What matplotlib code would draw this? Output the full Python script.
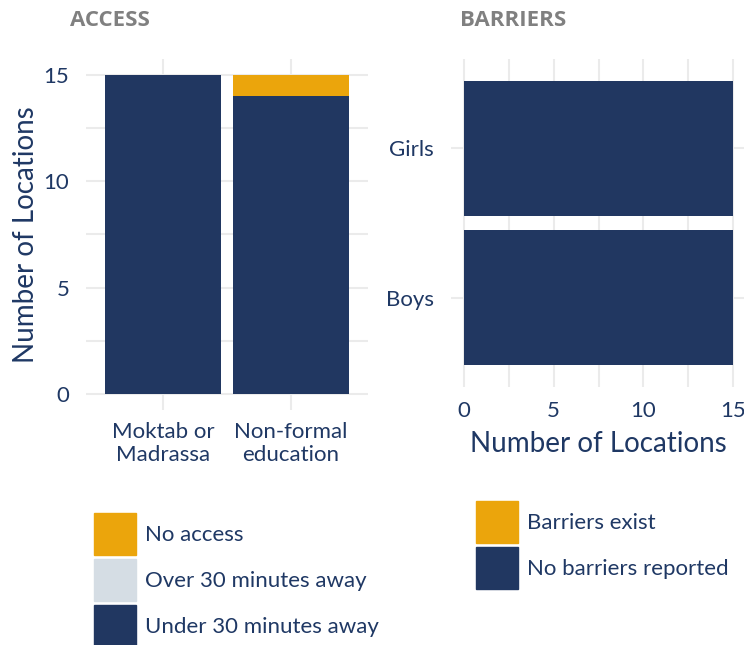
import numpy as np
import matplotlib.pyplot as plt
from matplotlib.patches import Patch
from matplotlib.ticker import MultipleLocator

# dane - panel ACCESS
access_cats = ["Moktab or\nMadrassa", "Non-formal\neducation"]
under_30 = [15, 14]
over_30 = [0, 0]
no_access = [0, 1]

# dane - panel BARRIERS
barrier_cats = ["Boys", "Girls"]
no_barriers = [15, 15]
barriers_exist = [0, 0]

NAVY = "#213761"
ORANGE = "#eba50c"
LIGHT = "#d5dde4"
TXT = "#1f3864"
GRID = "#ebebeb"

plt.rcParams["font.family"] = ["Lato", "DejaVu Sans"]

fig = plt.figure(figsize=(7.44, 6.45), dpi=100)
W, H = 744, 645

def px_axes(x0, x1, y0, y1):
    return fig.add_axes([x0 / W, 1 - y1 / H, (x1 - x0) / W, (y1 - y0) / H])

def style(ax):
    for s in ax.spines.values():
        s.set_visible(False)
    ax.grid(True, which="both", color=GRID, linewidth=1.5)
    ax.set_axisbelow(True)
    ax.tick_params(which="both", length=0, colors=TXT, labelsize=16)

# panel lewy
ax1 = px_axes(86, 368, 59, 410)
x = np.arange(1, len(access_cats) + 1)
ax1.bar(x, under_30, width=0.9, color=NAVY)
ax1.bar(x, over_30, width=0.9, bottom=under_30, color=LIGHT)
ax1.bar(x, no_access, width=0.9, bottom=np.add(under_30, over_30), color=ORANGE)
ax1.set_xlim(0.4, 2.6)
ax1.set_ylim(-0.75, 15.75)
ax1.set_xticks(x)
ax1.set_xticklabels(access_cats, linespacing=1.15)
ax1.set_yticks([0, 5, 10, 15])
ax1.yaxis.set_minor_locator(MultipleLocator(2.5))
style(ax1)
ax1.tick_params(axis="x", pad=9)
ax1.tick_params(axis="y", pad=12)
ax1.set_ylabel("Number of Locations", color=TXT, fontsize=20, labelpad=3)
ax1.text(70 / W, 1 - 20 / H, "ACCESS", transform=fig.transFigure, color="#808080",
         fontsize=16, fontweight="bold", family="Open Sans", va="center", ha="left")

# panel prawy
ax2 = px_axes(450.5, 746.5, 59, 387)
y = np.arange(1, len(barrier_cats) + 1)
ax2.barh(y, no_barriers, height=0.9, color=NAVY)
ax2.barh(y, barriers_exist, height=0.9, left=no_barriers, color=ORANGE)
ax2.set_xlim(-0.75, 15.75)
ax2.set_ylim(0.4, 2.6)
ax2.set_yticks(y)
ax2.set_yticklabels(barrier_cats)
ax2.set_xticks([0, 5, 10, 15])
ax2.xaxis.set_minor_locator(MultipleLocator(2.5))
style(ax2)
ax2.tick_params(axis="x", pad=10)
ax2.tick_params(axis="y", pad=12)
ax2.set_xlabel("Number of Locations", color=TXT, fontsize=20, labelpad=7)
ax2.text(460 / W, 1 - 20 / H, "BARRIERS", transform=fig.transFigure, color="#808080",
         fontsize=16, fontweight="bold", family="Open Sans", va="center", ha="left")

# legendy
leg_kw = dict(loc="upper left", frameon=False, fontsize=16, handlelength=1.9,
              handleheight=2.53, labelspacing=0.18, handletextpad=0.4,
              borderpad=0, borderaxespad=0, labelcolor=TXT)
fig.legend(handles=[Patch(color=ORANGE, label="No access"),
                    Patch(color=LIGHT, label="Over 30 minutes away"),
                    Patch(color=NAVY, label="Under 30 minutes away")],
           bbox_to_anchor=(94 / W, 1 - 513 / H), **leg_kw)
fig.legend(handles=[Patch(color=ORANGE, label="Barriers exist"),
                    Patch(color=NAVY, label="No barriers reported")],
           bbox_to_anchor=(476 / W, 1 - 501 / H), **leg_kw)

fig.savefig("out.png", dpi=100)
